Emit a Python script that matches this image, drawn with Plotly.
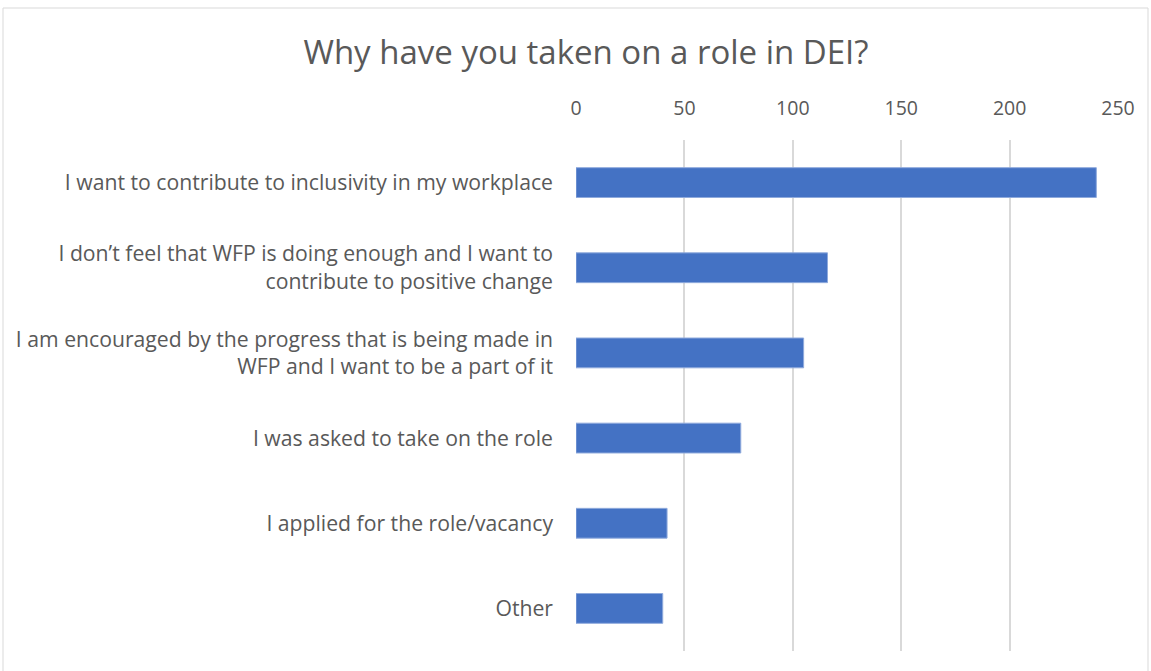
import plotly.graph_objects as go

# Survey responses: reasons for taking on a DEI role
reasons = [
    "I want to contribute to inclusivity in my workplace",
    "I don’t feel that WFP is doing enough and I want to<br>contribute to positive change",
    "I am encouraged by the progress that is being made in<br>WFP and I want to be a part of it",
    "I was asked to take on the role",
    "I applied for the role/vacancy",
    "Other",
]
counts = [240, 116, 105, 76, 42, 40]
tick_values = [0, 50, 100, 150, 200, 250]

W, H = 1151, 671
left, right, top, bottom = 576, 33, 140, 20
plot_w = W - left - right
plot_h = H - top - bottom


def px_x(x):
    return (x - left) / plot_w


def px_y(y):
    return (H - bottom - y) / plot_h


fig = go.Figure(
    go.Bar(
        x=counts,
        y=reasons,
        orientation="h",
        marker=dict(color="#4472C4", line=dict(color="#8FAADC", width=1)),
        hoverinfo="x+y",
    )
)

fig.update_layout(
    width=W,
    height=H,
    margin=dict(l=left, r=right, t=top, b=bottom),
    paper_bgcolor="white",
    plot_bgcolor="white",
    bargap=0.65,
    showlegend=False,
    font=dict(family="Open Sans, Calibri, sans-serif", color="#595959"),
    title=dict(
        text="Why have you taken on a role in DEI?",
        x=px_x(586),
        xref="paper",
        xanchor="center",
        y=1 - 52 / H,
        yanchor="middle",
        font=dict(size=33, color="#595959"),
    ),
    xaxis=dict(
        side="top",
        range=[0, 250],
        tickvals=tick_values,
        showgrid=True,
        gridcolor="#D9D9D9",
        gridwidth=1.5,
        zeroline=False,
        showline=False,
        ticks="",
        tickfont=dict(size=19.5, color="#595959"),
        ticklabelstandoff=20,
        fixedrange=True,
    ),
    yaxis=dict(
        autorange="reversed",
        showgrid=False,
        zeroline=False,
        showline=False,
        ticks="",
        tickfont=dict(size=21.2, color="#595959"),
        ticklabelstandoff=22,
    ),
    shapes=[
        dict(
            type="rect",
            xref="paper",
            yref="paper",
            x0=px_x(3),
            x1=px_x(1148),
            y0=px_y(672),
            y1=px_y(8),
            line=dict(color="#D9D9D9", width=1),
            fillcolor="rgba(0,0,0,0)",
            layer="below",
        )
    ],
)

fig.write_html("out.html")
